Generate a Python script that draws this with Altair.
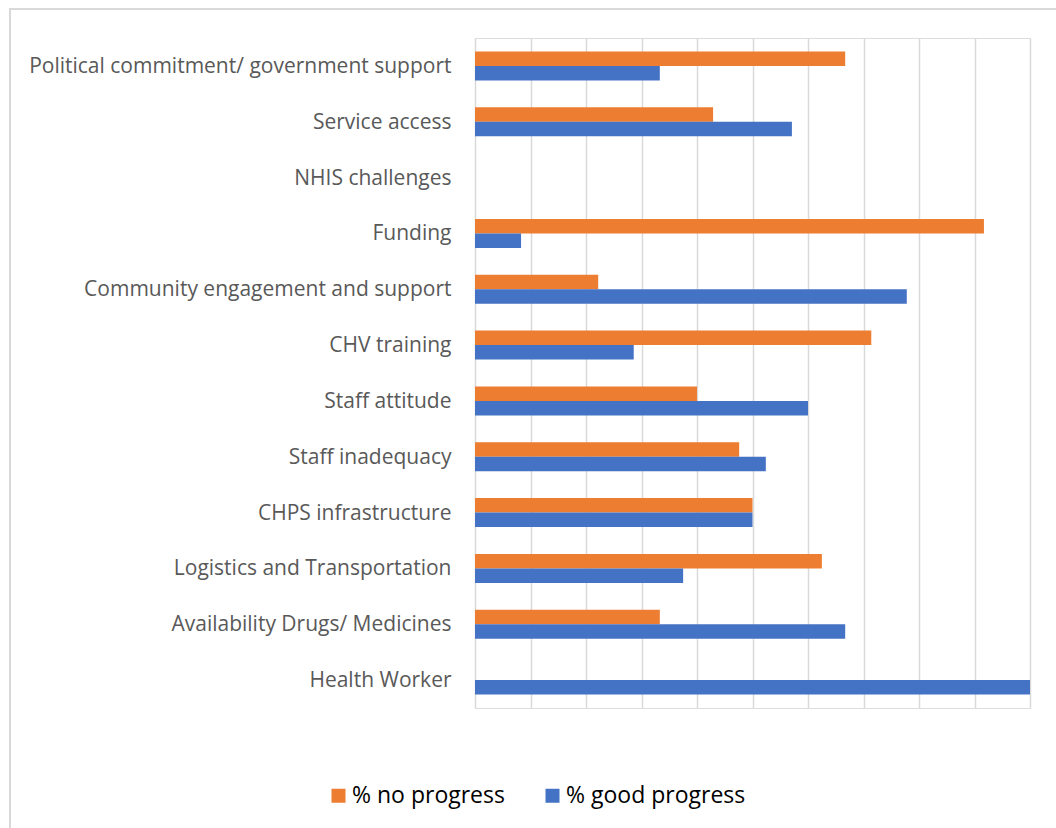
import altair as alt
import pandas as pd

categories = [
    "Political commitment/ government support",
    "Service access",
    "NHIS challenges",
    "Funding",
    "Community engagement and support",
    "CHV training",
    "Staff attitude",
    "Staff inadequacy",
    "CHPS infrastructure",
    "Logistics and Transportation",
    "Availability Drugs/ Medicines",
    "Health Worker",
]
no_progress = [66.7, 42.9, 0, 91.7, 22.2, 71.4, 40.0, 47.6, 50.0, 62.5, 33.3, 0]
good_progress = [33.3, 57.1, 0, 8.3, 77.8, 28.6, 60.0, 52.4, 50.0, 37.5, 66.7, 100]
series = ["% no progress", "% good progress"]
colors = ["#ED7D31", "#4472C4"]

rows = []
for c, a, b in zip(categories, no_progress, good_progress):
    rows.append({"category": c, "series": series[0], "value": a})
    rows.append({"category": c, "series": series[1], "value": b})
df = pd.DataFrame(rows)

FONT = "Open Sans"
W, H = 555, 670

bars = alt.Chart(df).mark_bar().encode(
    y=alt.Y("category:N", sort=categories,
            scale=alt.Scale(paddingInner=0.48, paddingOuter=0.24),
            axis=alt.Axis(title=None, domain=False, ticks=False, labelPadding=24,
                          labelFontSize=21, labelFont=FONT, labelColor="#595959",
                          labelLimit=500, labelOffset=1)),
    x=alt.X("value:Q", scale=alt.Scale(domain=[0, 100], nice=False),
            axis=alt.Axis(title=None, labels=False, domain=False, ticks=False,
                          values=list(range(0, 101, 10)),
                          grid=True, gridColor="#d9d9d9", gridWidth=1.5)),
    yOffset=alt.YOffset("series:N", sort=series),
    color=alt.Color("series:N", sort=series,
                    scale=alt.Scale(domain=series, range=colors),
                    legend=alt.Legend(title=None, orient="none", direction="horizontal",
                                      legendX=-148, legendY=746,
                                      symbolType="square", symbolSize=196,
                                      symbolStrokeWidth=0, labelLimit=400,
                                      labelFont=FONT, labelFontSize=23, labelColor="#000000",
                                      columnPadding=36, labelOffset=2)),
)

border = alt.Chart(pd.DataFrame({"a": [0]})).mark_rect(
    fill=None, stroke="#d9d9d9", strokeWidth=2
).encode(
    x=alt.value(-465), x2=alt.value(W + 60),
    y=alt.value(-29), y2=alt.value(H + 200),
)

chart = alt.layer(border, bars).properties(
    width=W, height=H,
    autosize=alt.AutoSizeParams(type="none"),
    padding={"left": 475, "top": 38, "right": 26, "bottom": 120},
).configure_view(stroke=None).configure(background="white")

chart.save("out.html", embed_options={"renderer": "svg", "actions": False})
